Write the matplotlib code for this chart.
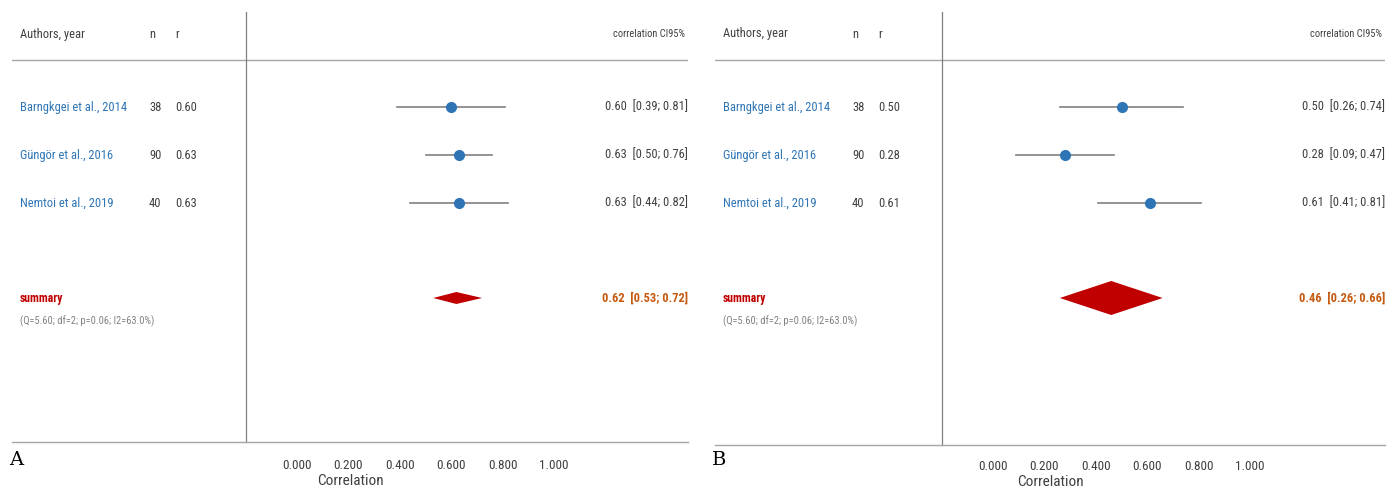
import matplotlib.pyplot as plt
import matplotlib.transforms as mtransforms
from matplotlib import font_manager

# data
authors = ['Barngkgei et al., 2014', 'Güngör et al., 2016', 'Nemtoi et al., 2019']
n_vals = [38, 90, 40]

r_A = [0.60, 0.63, 0.63]
lo_A = [0.39, 0.50, 0.44]
hi_A = [0.81, 0.76, 0.82]
sum_A = (0.62, 0.53, 0.72)

r_B = [0.50, 0.28, 0.61]
lo_B = [0.26, 0.09, 0.41]
hi_B = [0.74, 0.47, 0.81]
sum_B = (0.46, 0.26, 0.66)

het_text = '(Q=5.60; df=2; p=0.06; I2=63.0%)'
xticks = [0.0, 0.2, 0.4, 0.6, 0.8, 1.0]

# pick a narrow font if one is installed
names = {f.name for f in font_manager.fontManager.ttflist}
narrow = None
for cand in ['Liberation Sans Narrow', 'DejaVu Sans Condensed', 'Roboto Condensed',
             'Open Sans Condensed', 'Noto Sans Condensed']:
    if cand in names:
        narrow = cand
        break
stretch = 'normal'
if narrow is None:
    for f in font_manager.fontManager.ttflist:
        if f.name in ('DejaVu Sans', 'Noto Sans', 'Open Sans') and f.stretch not in ('normal', 400, 500):
            narrow = f.name
            stretch = f.stretch
            break
if narrow is None:
    narrow = 'Liberation Sans'
plt.rcParams['font.family'] = [narrow, 'DejaVu Sans']
plt.rcParams['font.stretch'] = stretch
fs = 9 if narrow != 'Liberation Sans' else 8

W, H = 1391, 490
fig = plt.figure(figsize=(W / 100, H / 100), dpi=100)

BLUE = '#2E75B6'
DARK = '#404040'
GREY = '#808080'
RED = '#C00000'
ORANGE = '#C55A11'

# row positions in panel pixel units (top = 0)
row_y = [107, 155, 203]
header_y = 34
sum_y = 298
het_y = 321


def panel(x0, x1, y_bottom, x_zero, px_per_unit, vline_px, r, lo, hi, summ, dh, letter, pad):
    ax = fig.add_axes([x0 / W, 1 - y_bottom / H, (x1 - x0) / W, (y_bottom - 12) / H])
    ax.set_xlim((x0 - x_zero) / px_per_unit, (x1 - x_zero) / px_per_unit)
    ax.set_ylim(y_bottom, 12)
    for s in ['top', 'left', 'right']:
        ax.spines[s].set_visible(False)
    ax.spines['bottom'].set_color('#A6A6A6')
    ax.spines['bottom'].set_linewidth(1.0)
    ax.set_yticks([])
    ax.set_xticks(xticks)
    ax.set_xticklabels(['%.3f' % t for t in xticks], fontsize=fs + 0.5, color=DARK)
    ax.tick_params(axis='x', length=0, pad=pad)
    ax.set_xlabel('Correlation', fontsize=fs + 2, color=DARK, labelpad=1.5)

    ax.axhline(60, color='#A6A6A6', lw=1.0)
    tr = mtransforms.blended_transform_factory(ax.transAxes, ax.transData)
    fx = lambda px: (px - x0) / (x1 - x0)
    ax.plot([fx(vline_px)] * 2, [12, y_bottom], transform=tr, color=GREY, lw=0.9, clip_on=False)

    ax.text(fx(x0 + 8), header_y, 'Authors, year', transform=tr, fontsize=fs, color=DARK, va='center')
    ax.text(fx(x0 + 137), header_y, 'n', transform=tr, fontsize=fs, color=DARK, va='center')
    ax.text(fx(x0 + 163), header_y, 'r', transform=tr, fontsize=fs, color=DARK, va='center')
    ax.text(fx(x1 - 3), header_y, 'correlation CI95%', transform=tr, fontsize=fs - 1.5, color=DARK,
            va='center', ha='right')

    for i, name in enumerate(authors):
        y = row_y[i]
        ax.text(fx(x0 + 8), y, name, transform=tr, fontsize=fs, color=BLUE, va='center')
        ax.text(fx(x0 + 137), y, str(n_vals[i]), transform=tr, fontsize=fs, color=DARK, va='center')
        ax.text(fx(x0 + 163), y, '%.2f' % r[i], transform=tr, fontsize=fs, color=DARK, va='center')
        ax.text(fx(x1), y, '%.2f  [%.2f; %.2f]' % (r[i], lo[i], hi[i]), transform=tr, fontsize=fs,
                color=DARK, va='center', ha='right')
        ax.plot([lo[i], hi[i]], [y, y], color=GREY, lw=1.2, zorder=2)
        ax.plot(r[i], y, 'o', color=BLUE, ms=7, zorder=3)

    est, slo, shi = summ
    ax.fill([slo, est, shi, est], [sum_y, sum_y - dh, sum_y, sum_y + dh], color=RED, lw=0, zorder=3)
    ax.text(fx(x0 + 8), sum_y, 'summary', transform=tr, fontsize=fs - 0.5, color=RED, va='center',
            fontweight='bold')
    ax.text(fx(x1), sum_y, '%.2f  [%.2f; %.2f]' % summ, transform=tr, fontsize=fs, color=ORANGE,
            va='center', ha='right', fontweight='bold')
    ax.text(fx(x0 + 8), het_y, het_text, transform=tr, fontsize=fs - 1.5, color=GREY, va='center')

    ax.text(fx(x0 - 3), 460, letter, transform=tr, fontsize=14, color='black',
            va='center', family='DejaVu Serif', clip_on=False)


panel(12, 688, 442, 297, 257, 246, r_A, lo_A, hi_A, sum_A, 6, 'A', 12.5)
panel(715, 1385, 445, 993, 257, 942, r_B, lo_B, hi_B, sum_B, 17, 'B', 11)

fig.savefig('out.png', dpi=100)
